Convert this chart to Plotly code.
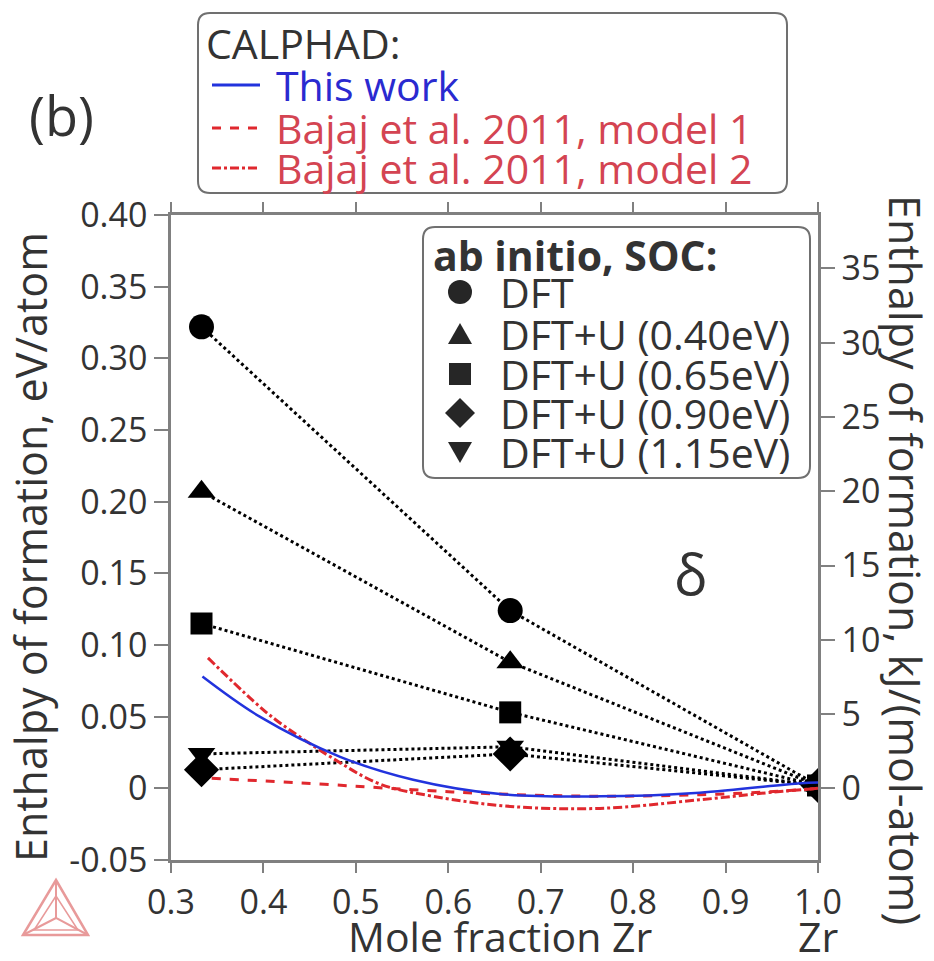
import plotly.graph_objects as go

# ---------------- data ----------------
x_abinitio = [0.333, 0.667, 1.0]
dft = [0.322, 0.124, 0.002]
dftu_040 = [0.207, 0.088, 0.002]
dftu_065 = [0.115, 0.053, 0.002]
dftu_090 = [0.013, 0.024, 0.002]
dftu_115 = [0.024, 0.029, 0.002]

x_this_work = [0.334, 0.396, 0.483, 0.562, 0.656, 0.764, 0.872, 0.981, 1.0]
y_this_work = [0.078, 0.050, 0.022, 0.006, -0.004, -0.0056, -0.003, 0.0035, 0.004]

x_model1 = [0.344, 0.461, 0.562, 0.656, 0.764, 0.872, 0.959, 1.0]
y_model1 = [0.007, 0.003, -0.001, -0.004, -0.0055, -0.0045, -0.002, 0.0]

x_model2 = [0.340, 0.389, 0.415, 0.480, 0.526, 0.584, 0.667, 0.764, 0.872, 0.962, 1.0]
y_model2 = [0.091, 0.061, 0.047, 0.019, 0.003, -0.0056, -0.0126, -0.014, -0.008, -0.002, 0.0]

x_ticks = [0.3, 0.4, 0.5, 0.6, 0.7, 0.8, 0.9, 1.0]
x_ticktext = ["0.3", "0.4", "0.5", "0.6", "0.7", "0.8", "0.9", "1.0"]
y_ticks = [-0.05, 0, 0.05, 0.10, 0.15, 0.20, 0.25, 0.30, 0.35, 0.40]
y_ticktext = ["-0.05", "0", "0.05", "0.10", "0.15", "0.20", "0.25", "0.30", "0.35", "0.40"]
y2_ticks = [0, 5, 10, 15, 20, 25, 30, 35]
EV_TO_KJ = 96.485

series_names = ["DFT", "DFT+U (0.40eV)", "DFT+U (0.65eV)", "DFT+U (0.90eV)", "DFT+U (1.15eV)"]
series_values = [dft, dftu_040, dftu_065, dftu_090, dftu_115]
series_symbols = ["circle", "triangle-up", "square", "diamond", "triangle-down"]
series_sizes = [25, 24, 22, 27, 24]

# ---------------- geometry helpers (layout only) ----------------
W, H = 934, 961
L, R, T, B = 171, 116, 215, 101
PW, PH = W - L - R, H - T - B


def X(px):
    return (px - L) / PW


def Y(py):
    return (H - B - py) / PH


def rrect(x0, y0, x1, y1, r):
    p = [
        f"M {X(x0 + r)},{Y(y0)}",
        f"L {X(x1 - r)},{Y(y0)}",
        f"Q {X(x1)},{Y(y0)} {X(x1)},{Y(y0 + r)}",
        f"L {X(x1)},{Y(y1 - r)}",
        f"Q {X(x1)},{Y(y1)} {X(x1 - r)},{Y(y1)}",
        f"L {X(x0 + r)},{Y(y1)}",
        f"Q {X(x0)},{Y(y1)} {X(x0)},{Y(y1 - r)}",
        f"L {X(x0)},{Y(y0 + r)}",
        f"Q {X(x0)},{Y(y0)} {X(x0 + r)},{Y(y0)}",
        "Z",
    ]
    return " ".join(p)


def poly(points, close=True):
    s = "M " + " L ".join(f"{X(a)},{Y(b)}" for a, b in points)
    return s + (" Z" if close else "")


TEXT = "#333333"
AXIS = "#808080"
BLUE_LINE = "#2233dd"
BLUE_TEXT = "#2a2ad0"
RED_LINE = "#e0282e"
RED_TEXT = "#d44452"
FONT = "Open Sans"

fig = go.Figure()

for name, vals, sym, sz in zip(series_names, series_values, series_symbols, series_sizes):
    fig.add_trace(go.Scatter(
        x=x_abinitio, y=vals, mode="lines+markers", name=name,
        line=dict(color="black", width=3, dash="dot"),
        marker=dict(symbol=sym, size=sz, color="black"),
        showlegend=False,
    ))

# same DFT data expressed in kJ/(mol-atom) on the right axis (invisible, drives the secondary axis)
fig.add_trace(go.Scatter(x=x_abinitio, y=[v * EV_TO_KJ for v in dft], yaxis="y2", mode="markers",
                         marker=dict(size=1, opacity=0), hoverinfo="skip", showlegend=False))

fig.add_trace(go.Scatter(x=x_model2, y=y_model2, mode="lines", name="Bajaj et al. 2011, model 2",
                         line=dict(color=RED_LINE, width=3, dash="dashdot", shape="spline", smoothing=1.0),
                         showlegend=False))
fig.add_trace(go.Scatter(x=x_model1, y=y_model1, mode="lines", name="Bajaj et al. 2011, model 1",
                         line=dict(color=RED_LINE, width=3, dash="dash", shape="spline", smoothing=1.0),
                         showlegend=False))
fig.add_trace(go.Scatter(x=x_this_work, y=y_this_work, mode="lines", name="This work",
                         line=dict(color=BLUE_LINE, width=2.5, shape="spline", smoothing=1.0),
                         showlegend=False))

shapes = []
annotations = []
LEG = 41

# CALPHAD legend box
shapes.append(dict(type="path", xref="paper", yref="paper", path=rrect(198, 13, 787, 193, 12),
                   line=dict(color="#707070", width=2), fillcolor="white", layer="below"))
annotations.append(dict(xref="paper", yref="paper", x=X(204), y=Y(43), text="CALPHAD:",
                        showarrow=False, xanchor="left", yanchor="middle",
                        font=dict(family=FONT, size=LEG, color=TEXT)))
legend_lines = [("This work", BLUE_LINE, BLUE_TEXT, "solid", 85),
                ("Bajaj et al. 2011, model 1", RED_LINE, RED_TEXT, "dash", 128),
                ("Bajaj et al. 2011, model 2", RED_LINE, RED_TEXT, "dashdot", 168)]
for txt, lc, tc, dash, yy in legend_lines:
    shapes.append(dict(type="line", xref="paper", yref="paper", x0=X(212), x1=X(260), y0=Y(yy), y1=Y(yy),
                       line=dict(color=lc, width=3, dash=dash)))
    annotations.append(dict(xref="paper", yref="paper", x=X(274), y=Y(yy), text=txt,
                            showarrow=False, xanchor="left", yanchor="middle",
                            font=dict(family=FONT, size=LEG, color=tc)))

# ab initio legend box
shapes.append(dict(type="path", xref="paper", yref="paper", path=rrect(423, 227, 810, 478, 12),
                   line=dict(color="#707070", width=2), fillcolor="white", layer="below"))
annotations.append(dict(xref="paper", yref="paper", x=X(431), y=Y(255), text="<b>ab initio, SOC:</b>",
                        showarrow=False, xanchor="left", yanchor="middle",
                        font=dict(family=FONT, size=LEG, color=TEXT)))
rows = [292, 334, 374, 413, 452]
mx = 460
MK = "#262626"
for (name, sym), yy in zip(zip(series_names, series_symbols), rows):
    if sym == "circle":
        shapes.append(dict(type="circle", xref="paper", yref="paper", x0=X(mx - 12), x1=X(mx + 12),
                           y0=Y(yy - 12), y1=Y(yy + 12), fillcolor=MK, line=dict(width=0)))
    elif sym == "square":
        shapes.append(dict(type="rect", xref="paper", yref="paper", x0=X(mx - 11), x1=X(mx + 11),
                           y0=Y(yy - 11), y1=Y(yy + 11), fillcolor=MK, line=dict(width=0)))
    elif sym == "triangle-up":
        shapes.append(dict(type="path", xref="paper", yref="paper",
                           path=poly([(mx, yy - 11), (mx + 12, yy + 10), (mx - 12, yy + 10)]),
                           fillcolor=MK, line=dict(width=0)))
    elif sym == "triangle-down":
        shapes.append(dict(type="path", xref="paper", yref="paper",
                           path=poly([(mx - 12, yy - 10), (mx + 12, yy - 10), (mx, yy + 11)]),
                           fillcolor=MK, line=dict(width=0)))
    elif sym == "diamond":
        shapes.append(dict(type="path", xref="paper", yref="paper",
                           path=poly([(mx, yy - 15), (mx + 15, yy), (mx, yy + 15), (mx - 15, yy)]),
                           fillcolor=MK, line=dict(width=0)))
    annotations.append(dict(xref="paper", yref="paper", x=X(498), y=Y(yy), text=name,
                            showarrow=False, xanchor="left", yanchor="middle",
                            font=dict(family=FONT, size=LEG, color=TEXT)))

# Thermo-Calc style logo (decorative)
LOGO = "#e89a9a"
A, Bv, Cv, Ctr = (56, 880), (88, 935), (23, 935), (56, 918)
shapes.append(dict(type="path", xref="paper", yref="paper", path=poly([A, Bv, Cv]),
                   line=dict(color=LOGO, width=2.5)))
shapes.append(dict(type="path", xref="paper", yref="paper", path=poly([A, Ctr, Bv], close=False),
                   line=dict(color=LOGO, width=2)))
shapes.append(dict(type="path", xref="paper", yref="paper", path=poly([Ctr, Cv], close=False),
                   line=dict(color=LOGO, width=2)))
shapes.append(dict(type="path", xref="paper", yref="paper",
                   path=poly([(56, 896), (78, 930), (34, 930)]), line=dict(color=LOGO, width=1.5)))

# texts
annotations.append(dict(xref="paper", yref="paper", x=X(61), y=Y(115), text="(b)", showarrow=False,
                        xanchor="center", yanchor="middle", font=dict(family=FONT, size=54, color=TEXT)))
annotations.append(dict(xref="x", yref="y", x=0.863, y=0.150, text="δ", showarrow=False,
                        xanchor="center", yanchor="middle", font=dict(family=FONT, size=56, color=TEXT)))
annotations.append(dict(xref="paper", yref="paper", x=X(30), y=Y(547),
                        text="Enthalpy of formation, eV/atom", textangle=-90, showarrow=False,
                        xanchor="center", yanchor="middle", font=dict(family=FONT, size=43, color=TEXT)))
annotations.append(dict(xref="paper", yref="paper", x=X(906), y=Y(560),
                        text="Enthalpy of formation, kJ/(mol-atom)", textangle=90, showarrow=False,
                        xanchor="center", yanchor="middle", font=dict(family=FONT, size=43, color=TEXT)))
annotations.append(dict(xref="paper", yref="paper", x=X(500), y=Y(936), text="Mole fraction Zr",
                        showarrow=False, xanchor="center", yanchor="middle",
                        font=dict(family=FONT, size=41, color=TEXT)))
annotations.append(dict(xref="x", yref="paper", x=1.0, y=Y(936), text="Zr",
                        showarrow=False, xanchor="center", yanchor="middle",
                        font=dict(family=FONT, size=41, color=TEXT)))

fig.update_layout(
    width=W, height=H,
    margin=dict(l=L, r=R, t=T, b=B),
    paper_bgcolor="white", plot_bgcolor="white",
    showlegend=False,
    font=dict(family=FONT, color=TEXT),
    xaxis=dict(range=[0.3, 1.0], tickvals=x_ticks, ticktext=x_ticktext, showgrid=False, zeroline=False,
               showline=True, linecolor=AXIS, linewidth=2.5, mirror="ticks",
               ticks="outside", ticklen=10, tickwidth=2, tickcolor=AXIS,
               tickfont=dict(family=FONT, size=34, color=TEXT)),
    yaxis=dict(range=[-0.05, 0.40], tickvals=y_ticks, ticktext=y_ticktext, showgrid=False, zeroline=False,
               showline=True, linecolor=AXIS, linewidth=2.5,
               ticks="outside", ticklen=14, tickwidth=2, tickcolor=AXIS,
               tickfont=dict(family=FONT, size=34, color=TEXT)),
    yaxis2=dict(range=[-0.05 * EV_TO_KJ, 0.40 * EV_TO_KJ], tickvals=y2_ticks, overlaying="y", side="right",
                showgrid=False, zeroline=False, showline=True, linecolor=AXIS, linewidth=2.5,
                ticks="outside", ticklen=14, tickwidth=2, tickcolor=AXIS,
                tickfont=dict(family=FONT, size=34, color=TEXT)),
    shapes=shapes,
    annotations=annotations,
)

fig.write_html("out.html", config={"displayModeBar": False},
               post_script="document.body.style.margin='0';document.body.style.overflow='hidden';")
